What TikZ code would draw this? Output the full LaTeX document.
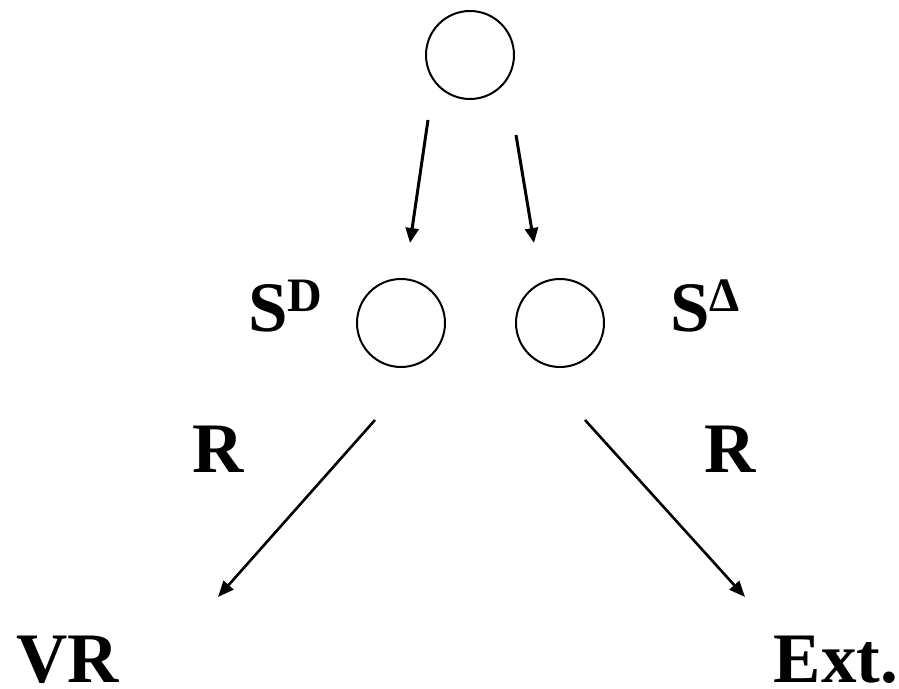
\documentclass[tikz,border=0pt]{standalone}
\usepackage{fontspec}
\setmainfont{Liberation Serif}
\usepackage{tikz}
\usetikzlibrary{positioning, arrows.meta}

\begin{document}
\begin{tikzpicture}[x=0.5pt,y=-0.5pt]
					\tikzstyle{vertex}=[circle,draw=black,line width=1pt,minimum size=44pt,inner sep=0pt]
					\tikzstyle{lbl}=[inner sep=0pt,font=\bfseries\fontsize{35.5}{40}\selectfont]
					\newcommand{\supmark}[1]{\raisebox{10pt}{\fontsize{24}{26}\selectfont #1}}
					\useasboundingbox (0,0) rectangle (899,689);
					\node[vertex](top) at (470,55){};
					\node[vertex](sd) at (401,323){};
					\node[vertex](sq) at (560,323){};
					\node[lbl,anchor=base west](lsd) at (248,332){S\supmark{D}};
					\node[lbl,anchor=base west](lsq) at (670,332){S\supmark{Δ}};
					\node[lbl,anchor=base](r1) at (218,473){R};
					\node[lbl,anchor=base](r2) at (730,473){R};
					\node[lbl,anchor=base](vr) at (68,682){VR};
					\node[lbl,anchor=base](ext) at (836,682){Ext.};
					\coordinate (t1) at (428,120);
					\coordinate (t2) at (516,135);
					\coordinate (d1) at (410,243);
					\coordinate (d2) at (534,243);
					\coordinate (s1) at (375,420);
					\coordinate (s2) at (585,420);
					\coordinate (v1) at (218,597);
					\coordinate (e1) at (745,597);
					\path[-{Triangle[length=7.5pt,width=6.5pt]},line width=1.5pt]
						(t1) edge node {}(d1)
						(t2) edge node {}(d2);
					\path[-{Triangle[length=8pt,width=6.5pt]},line width=1.3pt]
						(s1) edge node {}(v1)
						(s2) edge node {}(e1);
				\end{tikzpicture}
\end{document}
